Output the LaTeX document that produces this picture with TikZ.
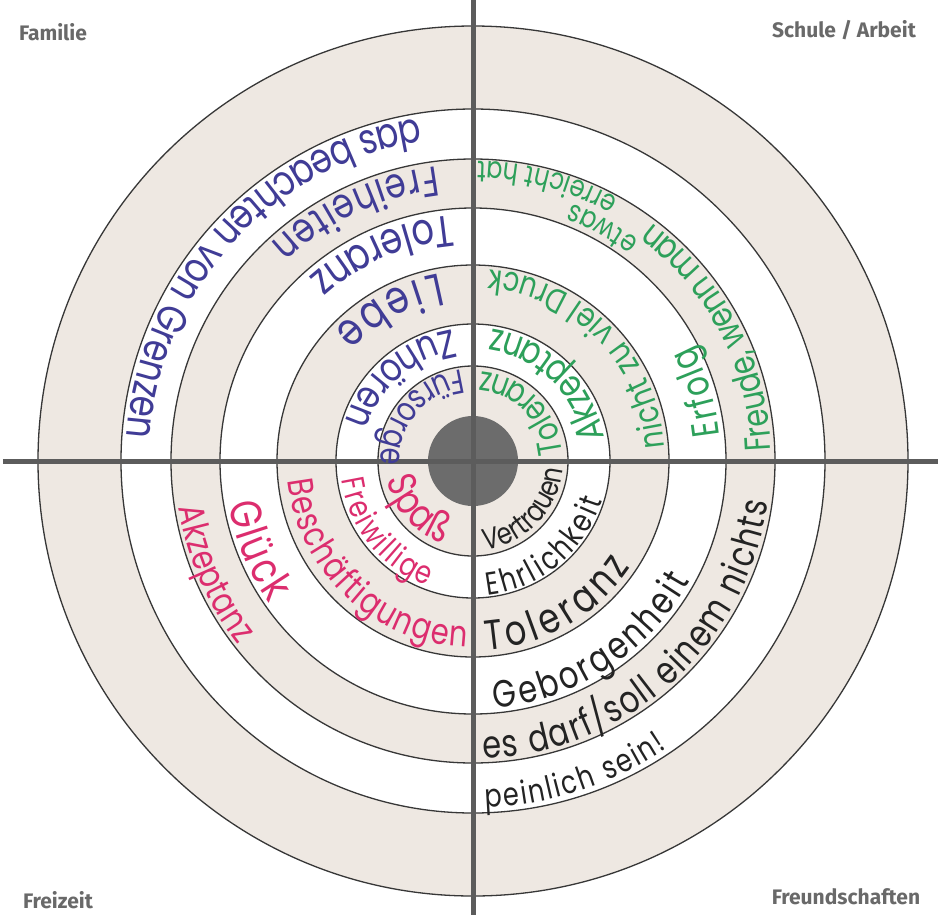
\documentclass[tikz,border=0pt]{standalone}
\usepackage{fontspec}
\setsansfont{Fira Sans}
\newfontfamily\hand[FakeStretch=0.8]{Poppins}
\usepackage{tikz}
\usetikzlibrary{decorations.text}
\usepackage{xcolor}
\definecolor{paperbeige}{RGB}{238, 232, 226}
\definecolor{ringline}{RGB}{55, 55, 55}
\definecolor{axisgray}{RGB}{92, 92, 92}
\definecolor{discgray}{RGB}{108, 108, 108}
\definecolor{labelgray}{RGB}{105, 105, 105}
\definecolor{inkblue}{RGB}{64, 60, 150}
\definecolor{inkgreen}{RGB}{45, 160, 90}
\definecolor{inkpink}{RGB}{220, 45, 110}
\definecolor{inkblack}{RGB}{35, 35, 35}

% text written along a ring: colour, radius, start angle, end angle, size, text
\newcommand{\ringtext}[6]{%
  \path[decorate, decoration={text along path, text align={fit to path},
      text={|\hand\fontsize{#5}{#5}\selectfont\color{#1}|#6}}]
    (#3:#2) arc[start angle=#3, end angle=#4, radius=#2];}

\begin{document}
\begin{tikzpicture}[x=1pt, y=1pt,
    cornerlabel/.style={font=\sffamily\bfseries\fontsize{21}{21}\selectfont, text=labelgray, inner sep=0pt},
    axis/.style={axisgray, line width=5pt}]
      % Page
      \fill[white] (-473,-461) rectangle (468,461);
      \useasboundingbox (-473,-461) rectangle (468,461);
      % Rings, from the outside in
      \foreach \r/\c in {435/paperbeige, 352/white, 302/paperbeige, 253/white, 196/paperbeige, 137/white, 95/paperbeige} {
        \filldraw[fill=\c, draw=ringline, line width=1.3pt] (0,0) circle[radius=\r];
      }
      % Centre
      \fill[discgray] (0,0) circle[radius=45];
      \coordinate (centre) at (0,0);
      % Axes
      \draw[axis] (-470,0) -- (465,0);
      \draw[axis] (0,461) -- (0,-454);

      % Corner labels
      \node[cornerlabel] (familie) at (-420,429) {Familie};
      \node[cornerlabel] (schule) at (371,431) {Schule / Arbeit};
      \node[cornerlabel] (freizeit) at (-415,-439) {Freizeit};
      \node[cornerlabel] (freunde) at (373,-436) {Freundschaften};

      % Familie
      \ringtext{inkblue}{92}{97}{182}{34}{Fürsorge}
      \ringtext{inkblue}{133}{99}{163}{40}{Zuhören}
      \ringtext{inkblue}{190}{100}{137}{46}{Liebe}
      \ringtext{inkblue}{246}{95}{132}{44}{Toleranz}
      \ringtext{inkblue}{297}{97}{133}{42}{Freiheiten}
      \ringtext{inkblue}{347}{99}{176}{42}{das beachten von Grenzen}

      % Schule / Arbeit
      \ringtext{inkgreen}{90}{5}{85}{34}{Toleranz}
      \ringtext{inkgreen}{133}{10}{82}{38}{Akzeptanz}
      \ringtext{inkgreen}{192}{4}{85}{34}{nicht zu viel Druck}
      \ringtext{inkgreen}{248}{6}{28}{38}{Erfolg}
      \ringtext{inkgreen}{298}{2}{52}{36}{Freude, wenn man}
      \ringtext{inkgreen}{276}{53}{69}{30}{etwas}
      \ringtext{inkgreen}{300}{61}{89}{30}{erreicht hat}

      % Freizeit
      \ringtext{inkpink}{88}{192}{250}{40}{Spaß}
      \ringtext{inkpink}{133}{188}{250}{32}{Freiwillige}
      \ringtext{inkpink}{186}{186}{268}{36}{Beschäftigungen}
      \ringtext{inkpink}{248}{190}{215}{44}{Glück}
      \ringtext{inkpink}{298}{189}{218}{36}{Akzeptanz}

      % Freundschaften
      \ringtext{inkblack}{90}{278}{355}{30}{Vertrauen}
      \ringtext{inkblack}{135}{276}{343}{32}{Ehrlichkeit}
      \ringtext{inkblack}{190}{274}{326}{42}{Toleranz}
      \ringtext{inkblack}{248}{275}{331}{38}{Geborgenheit}
      \ringtext{inkblack}{298}{272}{352}{38}{es darf/soll einem nichts}
      \ringtext{inkblack}{347}{272}{304}{32}{peinlich sein!}
    \end{tikzpicture}
\end{document}
